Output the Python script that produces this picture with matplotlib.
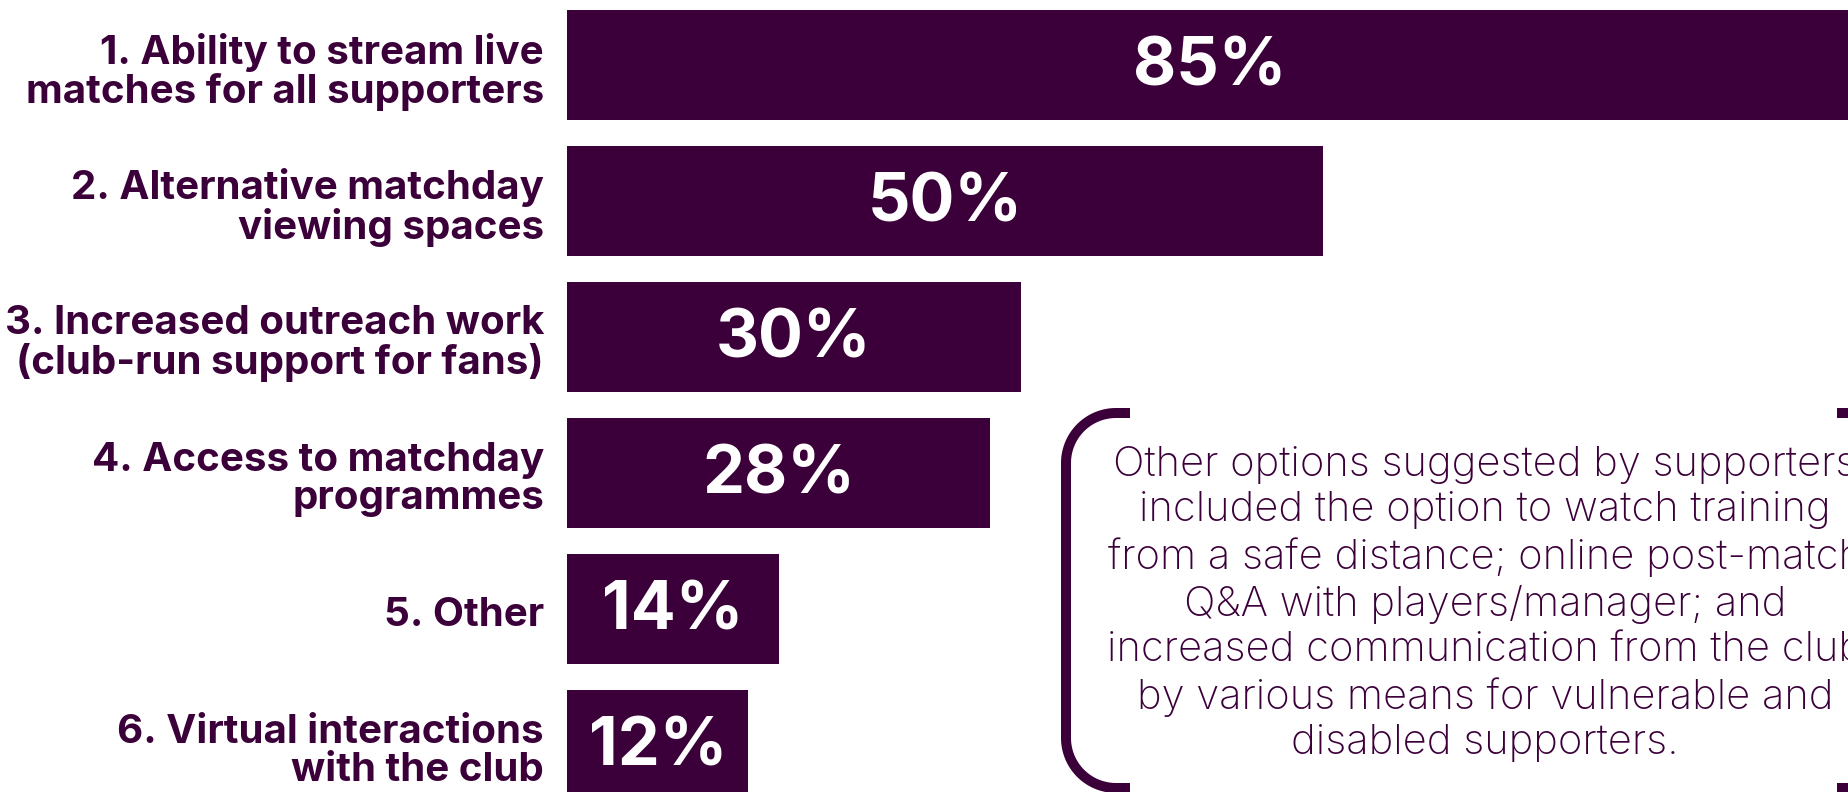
import numpy as np
import matplotlib
matplotlib.use("Agg")
import matplotlib.pyplot as plt
from matplotlib.path import Path
from matplotlib.patches import PathPatch

categories = [
    "1. Ability to stream live\nmatches for all supporters",
    "2. Alternative matchday\nviewing spaces",
    "3. Increased outreach work\n(club-run support for fans)",
    "4. Access to matchday\nprogrammes",
    "5. Other",
    "6. Virtual interactions\nwith the club",
]
values = [85, 50, 30, 28, 14, 12]
value_labels = ["85%", "50%", "30%", "28%", "14%", "12%"]
note = ("Other options suggested by supporters\n"
        "included the option to watch training\n"
        "from a safe distance; online post-match\n"
        "Q&A with players/manager; and\n"
        "increased communication from the club\n"
        "by various means for vulnerable and\n"
        "disabled supporters.")

PURPLE = "#3b003a"
W, H = 1849, 792
fig = plt.figure(figsize=(W / 100, H / 100), dpi=100)
x0 = 567
px_per_unit = 15.12
ax = fig.add_axes([x0 / W, 0, 1 - x0 / W, 1])
ax.set_xlim(0, (W - x0) / px_per_unit)
ax.set_ylim((H - 65) / 136, -65 / 136)
ax.axis("off")

ys = np.arange(len(values))
ax.barh(ys, values, height=110 / 136, color=PURPLE, clip_on=True)

fam = ["Inter", "DejaVu Sans"]
for y, v, lab, cat in zip(ys, values, value_labels, categories):
    xc = min(v, (W - x0) / px_per_unit + 0.2) / 2
    ax.text(xc, y + 0.02, lab, ha="center", va="center", color="white",
            fontsize=48, fontweight="bold", family=fam)
    ax.text(-23 / px_per_unit, y + 0.05, cat, ha="right", va="center",
            color=PURPLE, fontsize=29, fontweight="bold", family=fam,
            linespacing=1.03, multialignment="right", clip_on=False)

# bracket around the note
def fx(p):
    return p / W

def fy(p):
    return 1 - p / H

r = 50
def arc(cx, cy, a0, a1, n=30):
    t = np.linspace(np.radians(a0), np.radians(a1), n)
    return [(cx + r * np.cos(t_), cy + r * np.sin(t_)) for t_ in t]

xl, top, bot = 1066, 413, 788
pts = [(1130, top)] + arc(xl + r, top + r, 270, 180) + arc(xl + r, bot - r, 180, 90) + [(1130, bot)]
verts = [(fx(a), fy(b)) for a, b in pts]
fig.add_artist(PathPatch(Path(verts), transform=fig.transFigure, fill=False,
                         edgecolor=PURPLE, lw=7.2, capstyle="butt", joinstyle="round"))
xr = 1837 + 80
pts2 = [(1837, top)] + arc(xr - r, top + r, 270, 360) + arc(xr - r, bot - r, 0, 90) + [(1837, bot)]
verts2 = [(fx(a), fy(b)) for a, b in pts2]
fig.add_artist(PathPatch(Path(verts2), transform=fig.transFigure, fill=False,
                         edgecolor=PURPLE, lw=7.2, capstyle="butt", joinstyle="round"))

fig.text(fx(1485), fy(604), note, ha="center", va="center", multialignment="center",
         color=PURPLE, fontsize=30, fontweight="light", family=fam, linespacing=1.25)

fig.savefig("out.png", dpi=100, facecolor="white")
